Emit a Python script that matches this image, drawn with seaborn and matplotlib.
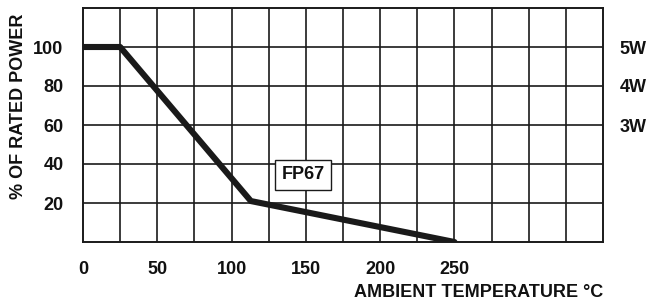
import matplotlib
matplotlib.use("Agg")
import matplotlib.pyplot as plt
import seaborn as sns

# derating curve
temp = [0, 25, 113, 250]
power = [100, 100, 21, 0]

x_ticks = [0, 50, 100, 150, 200, 250]
y_ticks = [20, 40, 60, 80, 100]
watt_ticks = [100, 80, 60]
watt_labels = ["5W", "4W", "3W"]

sns.set_style("white")
plt.rcParams['font.family'] = ['Liberation Sans', 'DejaVu Sans']
plt.rcParams['font.weight'] = 'bold'
plt.rcParams['font.size'] = 13
plt.rcParams['text.color'] = '#111111'
plt.rcParams['xtick.color'] = '#111111'
plt.rcParams['ytick.color'] = '#111111'
plt.rcParams['axes.labelcolor'] = '#111111'

fig = plt.figure(figsize=(6.58, 3.06), dpi=100)
ax = fig.add_axes([83 / 658, 1 - 242 / 306, (603 - 83) / 658, (242 - 8) / 306])

# grid every 25 degC / 20 %
for gx in range(25, 350, 25):
    ax.axvline(gx, color='#1a1a1a', lw=1.2, zorder=1)
for gy in range(20, 120, 20):
    ax.axhline(gy, color='#1a1a1a', lw=1.2, zorder=1)

sns.lineplot(x=temp, y=power, ax=ax, color='#1a1a1a', lw=4.4, zorder=3)

ax.set_xlim(0, 350)
ax.set_ylim(0, 120)
ax.set_xticks(x_ticks)
ax.set_yticks(y_ticks)
ax.tick_params(length=0, labelsize=13, pad=14)
for lab in ax.get_xticklabels() + ax.get_yticklabels():
    lab.set_fontweight('bold')
for s in ax.spines.values():
    s.set_color('#1a1a1a')
    s.set_linewidth(1.4)

ax.set_xlabel("AMBIENT TEMPERATURE °C", loc='right', fontsize=13,
              fontweight='bold', labelpad=4)
fig.text(19 / 658, 1 - 106 / 306, "% OF RATED POWER", rotation=90,
         ha='center', va='center', fontsize=13, fontweight='bold')

ax2 = ax.twinx()
ax2.set_ylim(0, 120)
ax2.set_yticks(watt_ticks)
ax2.set_yticklabels(watt_labels, fontweight='bold')
ax2.tick_params(length=0, labelsize=13, pad=12)
for s in ax2.spines.values():
    s.set_visible(False)

ax.text(148, 34.5, "FP67", ha='center', va='center', fontsize=13,
        fontweight='bold', zorder=5,
        bbox=dict(boxstyle='square,pad=0.35', fc='white', ec='#1a1a1a', lw=1))

fig.savefig("out.png", dpi=100)
